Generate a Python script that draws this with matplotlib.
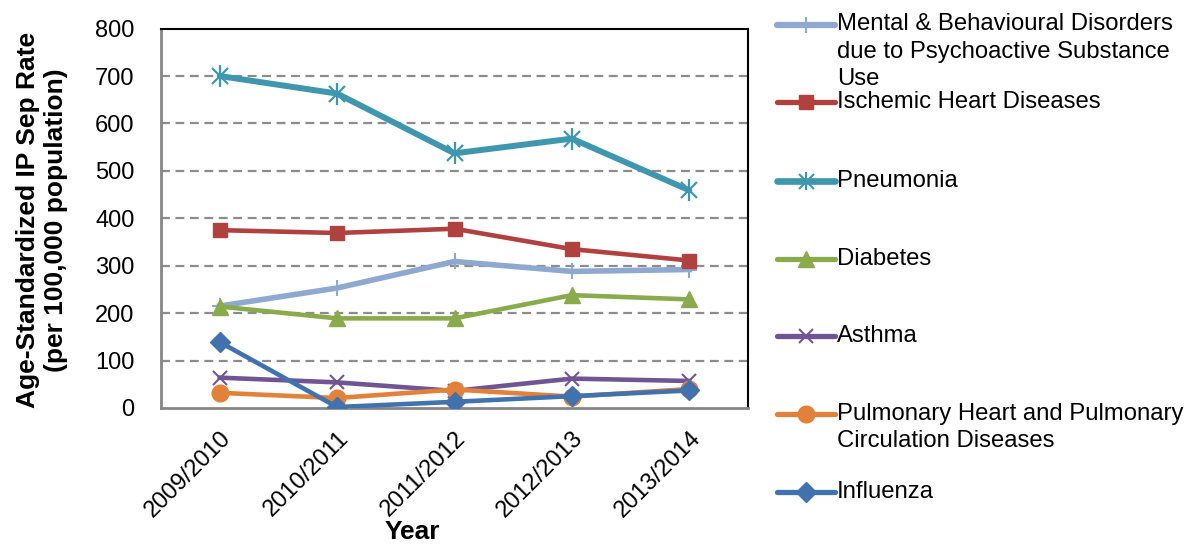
import matplotlib
matplotlib.use("Agg")
import matplotlib.pyplot as plt
from matplotlib.lines import Line2D

plt.rcParams['font.family'] = ['Liberation Sans', 'DejaVu Sans']

years = ["2009/2010", "2010/2011", "2011/2012", "2012/2013", "2013/2014"]
mental = [215, 253, 309, 288, 292]
ischemic = [375, 369, 378, 335, 311]
pneumonia = [700, 663, 537, 568, 459]
diabetes = [214, 189, 189, 238, 229]
asthma = [64, 54, 36, 62, 57]
pulmonary = [32, 21, 39, 24, 40]
influenza = [139, 2, 13, 25, 37]

labels = ["Mental & Behavioural Disorders\ndue to Psychoactive Substance\nUse",
          "Ischemic Heart Diseases", "Pneumonia", "Diabetes", "Asthma",
          "Pulmonary Heart and Pulmonary\nCirculation Diseases", "Influenza"]
yticks = [0, 100, 200, 300, 400, 500, 600, 700, 800]

series = [mental, ischemic, pneumonia, diabetes, asthma, pulmonary, influenza]
colors = ["#8EA8CF", "#B0413E", "#3F97AF", "#8AAB4B", "#6F5593", "#E2813A", "#4272AE"]
markers = ["+", "s", "*", "^", "x", "o", "D"]
msizes = [11, 10.5, 12, 12, 10, 12, 10]
lws = [4.0, 3.3, 4.3, 3.3, 3.3, 3.3, 3.3]

fig = plt.figure(figsize=(11.85, 5.46), dpi=100)
ax = fig.add_axes([161/1185, 1 - 408/546, (748 - 161)/1185, (408 - 28.6)/546])

x = list(range(len(years)))
for i, (vals, c, m, ms, lw) in enumerate(zip(series, colors, markers, msizes, lws)):
    if m == "*":
        ax.plot(x, vals, color=c, lw=lw, solid_capstyle='round', zorder=3 + i)
        ax.plot(x, vals, ls='none', marker='x', ms=ms, mew=1.6, color=c, zorder=3 + i)
        ax.plot(x, vals, ls='none', marker='|', ms=ms * 1.3, mew=1.6, color=c, zorder=3 + i)
    elif m in ("+", "x"):
        ax.plot(x, vals, color=c, lw=lw, marker=m, ms=ms, mew=1.5, zorder=3 + i)
    else:
        ax.plot(x, vals, color=c, lw=lw, marker=m, ms=ms, mec=c, mfc=c, zorder=3 + i)

ax.set_xlim(-0.5, len(years) - 0.5)
ax.set_ylim(0, 800)
ax.set_yticks(yticks)
ax.set_xticks(x)
ax.set_xticklabels(years, rotation=45, ha='right', rotation_mode='anchor')
ax.tick_params(axis='both', length=0, labelsize=17, colors='black')
ax.tick_params(axis='y', pad=19)
ax.tick_params(axis='x', pad=14)
for yv in yticks[1:-1]:
    ax.axhline(yv, color='#8C8C8C', lw=1.6, ls=(0, (4, 2.5)), zorder=1)

ax.spines['top'].set_color('black')
ax.spines['right'].set_color('black')
ax.spines['top'].set_linewidth(1.5)
ax.spines['right'].set_linewidth(1.5)
ax.spines['left'].set_color('#868686')
ax.spines['bottom'].set_color('#868686')
ax.spines['left'].set_linewidth(2)
ax.spines['bottom'].set_linewidth(2)

fig.text(42/1185, 1 - 220/546, "Age-Standardized IP Sep Rate\n(per 100,000 population)",
         rotation=90, ha='center', va='center', fontsize=19, fontweight='bold',
         linespacing=1.25)
fig.text(412/1185, 1 - 532/546, "Year", ha='center', va='center', fontsize=19,
         fontweight='bold')

# legend drawn manually
leg_y = [24.5, 102, 181, 259, 336, 414, 492]
line_step = 27.3
for lab, yy, c, m, ms, lw in zip(labels, leg_y, colors, markers, msizes, lws):
    yf = 1 - yy / 546
    fig.add_artist(Line2D([777/1185, 835/1185], [yf, yf], color=c, lw=lw + 0.5,
                          transform=fig.transFigure, solid_capstyle='round'))
    xm = 806/1185
    if m == "*":
        fig.add_artist(Line2D([xm], [yf], ls='none', marker='x', ms=ms * 0.9, mew=1.5,
                              color=c, transform=fig.transFigure))
        fig.add_artist(Line2D([xm], [yf], ls='none', marker='|', ms=ms * 1.1, mew=1.5,
                              color=c, transform=fig.transFigure))
    elif m in ("+", "x"):
        fig.add_artist(Line2D([xm], [yf], ls='none', marker=m, ms=ms, mew=1.5,
                              color=c, transform=fig.transFigure))
    else:
        fig.add_artist(Line2D([xm], [yf], ls='none', marker=m, ms=ms, mec=c, mfc=c,
                              transform=fig.transFigure))
    for k, part in enumerate(lab.split("\n")):
        fig.text(837/1185, 1 - (yy + k * line_step) / 546, part, ha='left',
                 va='center', fontsize=17.2)

fig.savefig("out.png", dpi=100)
